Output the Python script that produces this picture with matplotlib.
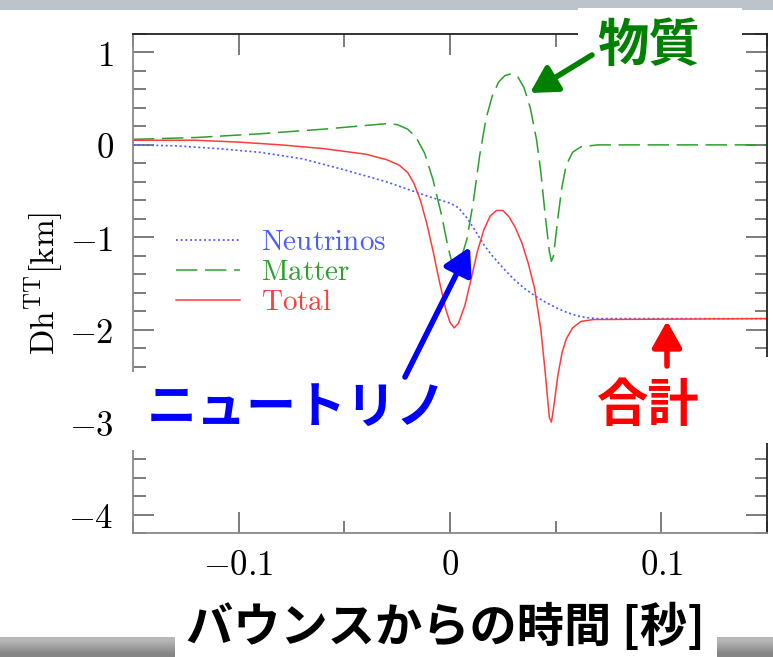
import numpy as np
import matplotlib
matplotlib.use("Agg")
import matplotlib.pyplot as plt
from matplotlib.patches import Rectangle, FancyArrowPatch
from matplotlib.ticker import MultipleLocator, FuncFormatter

plt.rcParams['font.family'] = ['Noto Sans CJK JP', 'DejaVu Sans']
plt.rcParams['mathtext.fontset'] = 'cm'

# ---------------------------------------------
# Data (time in s, Dh^TT in km)
neutrino_t = [-0.15, -0.13, -0.11, -0.09, -0.07, -0.05, -0.03, -0.02, -0.01, 0.0,
              0.004, 0.008, 0.012, 0.016, 0.020, 0.025, 0.030, 0.035, 0.040, 0.045,
              0.050, 0.055, 0.060, 0.065, 0.070, 0.15]
neutrino_h = [0.00, -0.01, -0.04, -0.08, -0.15, -0.27, -0.40, -0.48, -0.56, -0.63,
              -0.68, -0.79, -0.93, -1.08, -1.20, -1.33, -1.45, -1.55, -1.63, -1.70,
              -1.76, -1.81, -1.85, -1.87, -1.88, -1.88]

matter_t = [-0.15, -0.12, -0.09, -0.06, -0.04, -0.03, -0.025, -0.02, -0.016, -0.012,
            -0.008, -0.004, -0.001, 0.001, 0.003, 0.005, 0.008, 0.011, 0.014, 0.017,
            0.020, 0.023, 0.026, 0.029, 0.032, 0.035, 0.038, 0.041, 0.043, 0.045,
            0.047, 0.048, 0.049, 0.051, 0.053, 0.055, 0.058, 0.062, 0.070, 0.15]
matter_h = [0.06, 0.08, 0.12, 0.17, 0.21, 0.23, 0.22, 0.17, 0.08, -0.09,
            -0.38, -0.76, -1.10, -1.28, -1.32, -1.25, -1.02, -0.62, -0.12, 0.28,
            0.53, 0.68, 0.75, 0.77, 0.74, 0.62, 0.40, 0.05, -0.30, -0.75,
            -1.15, -1.26, -1.20, -0.80, -0.45, -0.22, -0.08, -0.02, 0.0, 0.0]

total_t = [-0.15, -0.12, -0.10, -0.08, -0.06, -0.04, -0.03, -0.024, -0.02, -0.017,
           -0.014, -0.011, -0.008, -0.005, -0.002, 0.0, 0.002, 0.004, 0.007, 0.010,
           0.013, 0.016, 0.019, 0.022, 0.025, 0.028, 0.031, 0.034, 0.037, 0.040,
           0.043, 0.045, 0.047, 0.048, 0.049, 0.051, 0.053, 0.055, 0.058, 0.062,
           0.068, 0.15]
total_h = [0.05, 0.05, 0.03, 0.00, -0.04, -0.10, -0.16, -0.22, -0.30, -0.42,
           -0.60, -0.85, -1.15, -1.48, -1.78, -1.92, -1.98, -1.93, -1.74, -1.45,
           -1.15, -0.92, -0.77, -0.71, -0.71, -0.78, -0.90, -1.06, -1.28, -1.55,
           -2.00, -2.45, -2.95, -3.00, -2.85, -2.50, -2.25, -2.10, -1.98, -1.91,
           -1.89, -1.88]

W, H = 773, 657
fig = plt.figure(figsize=(W / 100, H / 100), dpi=100)


def fx(px):
    return px / W


def fy(py):
    return 1 - py / H


ax = fig.add_axes([fx(133), fy(533), fx(767) - fx(133), fy(34) - fy(533)])

ax.plot(neutrino_t, neutrino_h, color='#4a5cff', lw=1.2, dashes=(1.2, 1.6), label=r'$\mathrm{Neutrinos}$')
ax.plot(matter_t, matter_h, color='#2ca02c', lw=1.1, dashes=(14, 5), label=r'$\mathrm{Matter}$')
ax.plot(total_t, total_h, color='#ff3b3b', lw=1.1, label=r'$\mathrm{Total}$')

ax.set_xlim(-0.15, 0.15)
ax.set_ylim(-4.2, 1.2)
ax.xaxis.set_major_locator(MultipleLocator(0.1))
ax.xaxis.set_minor_locator(MultipleLocator(0.05))
ax.yaxis.set_major_locator(MultipleLocator(1))
ax.yaxis.set_minor_locator(MultipleLocator(0.2))


def tex_fmt(v, pos):
    if abs(v) < 1e-9:
        return r'$0$'
    return r'$%g$' % round(v, 3)


ax.xaxis.set_major_formatter(FuncFormatter(tex_fmt))
ax.yaxis.set_major_formatter(FuncFormatter(tex_fmt))
ax.tick_params(which='both', direction='in', top=True, right=True, color='#666666', width=1.2)
ax.tick_params(which='major', length=15, labelsize=25)
ax.tick_params(axis='x', which='major', pad=11)
ax.tick_params(axis='y', which='major', pad=14)
ax.tick_params(which='minor', length=9)
for side in ['left', 'bottom']:
    ax.spines[side].set_color('#888888')
for side in ['top', 'right']:
    ax.spines[side].set_color('#222222')
for sp in ax.spines.values():
    sp.set_linewidth(1.3)

ax.set_ylabel(r'$\mathrm{Dh^{TT}[km]}$', fontsize=24, labelpad=2)

leg = ax.legend(loc='upper left', bbox_to_anchor=(0.068, 0.613), frameon=False, fontsize=21,
                handlelength=2.2, handletextpad=0.7, labelspacing=0.0, labelcolor='linecolor',
                borderaxespad=0, borderpad=0)

# gray bands of the slide around the figure
fig.add_artist(Rectangle((0, fy(10)), 1, fy(0) - fy(10), transform=fig.transFigure,
                         facecolor='#bcc3ca', edgecolor='none', zorder=0))
bg = fig.add_axes([0, 0, 1, fy(637)], zorder=-1)
bg.imshow([[0.72], [0.62], [0.52]], cmap='gray', vmin=0, vmax=1, aspect='auto',
          interpolation='bilinear', extent=[0, 1, 0, 1])
bg.set_axis_off()

# white boxes behind the labels
for x0, y0, x1, y1 in [(578, 8, 742, 80), (120, 372, 460, 450), (580, 357, 773, 443), (175, 598, 717, 657)]:
    fig.add_artist(Rectangle((fx(x0), fy(y1)), fx(x1) - fx(x0), fy(y0) - fy(y1), transform=fig.transFigure,
                             facecolor='white', edgecolor='none', zorder=5))

fig.text(fx(648), fy(45), '物質', color='#008000', fontsize=37, fontweight='bold',
         ha='center', va='center', zorder=6)
fig.text(fx(297), fy(408), 'ニュートリノ', color='#0000ff', fontsize=36, fontweight='bold',
         ha='center', va='center', zorder=6)
fig.text(fx(648), fy(405), '合計', color='#ff0000', fontsize=37, fontweight='bold',
         ha='center', va='center', zorder=6)
fig.text(fx(446), fy(628), 'バウンスからの時間 [秒]', color='black', fontsize=34, fontweight='bold',
         ha='center', va='center', zorder=6)

for (x0, y0), (x1, y1), c in [((592, 55), (530, 93), '#008000'),
                              ((405, 377), (470, 247), '#0000ff'),
                              ((667, 366), (667, 321), '#ff0000')]:
    fig.add_artist(FancyArrowPatch((fx(x0), fy(y0)), (fx(x1), fy(y1)), transform=fig.transFigure,
                                   arrowstyle='-|>,head_length=0.8,head_width=0.45', mutation_scale=20,
                                   color=c, lw=4, shrinkA=0, shrinkB=0, zorder=7))

fig.savefig('out.png', dpi=100)
